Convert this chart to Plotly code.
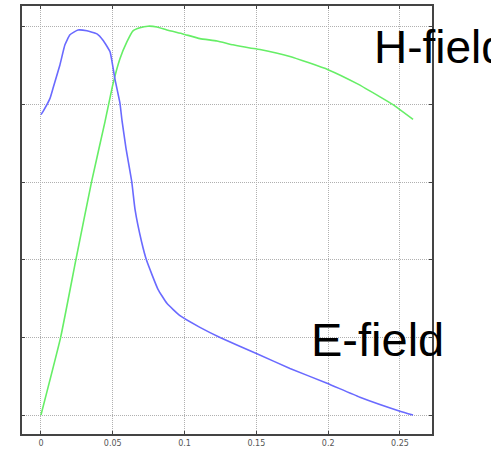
import plotly.graph_objects as go

# E-field (blue) curve
e_x = [0.0, 0.0014, 0.0063, 0.0084, 0.0132, 0.0167, 0.0202, 0.0258, 0.0320, 0.0390,
       0.0432, 0.0481, 0.0515, 0.0550, 0.0564, 0.0592, 0.0632, 0.0655, 0.0701, 0.0736,
       0.0815, 0.0877, 0.0968, 0.1107, 0.1247, 0.1504, 0.1734, 0.1992, 0.2221, 0.2500, 0.2591]
e_y = [3.87, 3.91, 4.08, 4.21, 4.51, 4.77, 4.90, 4.96, 4.95, 4.91,
       4.83, 4.68, 4.33, 4.02, 3.80, 3.44, 3.01, 2.65, 2.23, 1.99,
       1.62, 1.44, 1.28, 1.13, 1.00, 0.79, 0.60, 0.41, 0.23, 0.05, 0.00]

# H-field (green) curve
h_x = [0.0, 0.0137, 0.0242, 0.0353, 0.0446, 0.0501, 0.0550, 0.0599, 0.0641, 0.0689,
       0.0745, 0.0808, 0.0877, 0.0989, 0.1107, 0.1226, 0.1337, 0.1455, 0.1525, 0.1734,
       0.1999, 0.2201, 0.2361, 0.2451, 0.2591]
h_y = [0.0, 1.00, 1.99, 3.01, 3.78, 4.26, 4.59, 4.81, 4.95, 4.99,
       5.01, 5.00, 4.96, 4.91, 4.85, 4.82, 4.77, 4.73, 4.71, 4.62,
       4.45, 4.27, 4.10, 4.00, 3.81]

x_ticks = [0, 0.05, 0.1, 0.15, 0.2, 0.25]
x_tick_labels = ["0", "0.05", "0.1", "0.15", "0.2", "0.25"]
y_ticks = [0, 1, 2, 3, 4, 5]

fig = go.Figure()
fig.add_trace(go.Scatter(x=h_x, y=h_y, mode="lines", line=dict(color="#66ee66", width=1.6),
                         line_shape="spline", line_smoothing=0.4, showlegend=False))
fig.add_trace(go.Scatter(x=e_x, y=e_y, mode="lines", line=dict(color="#6a6aff", width=1.6),
                         line_shape="spline", line_smoothing=0.4, showlegend=False))

fig.add_annotation(text="H-field", xref="paper", yref="paper", x=0.853, y=0.905,
                   xanchor="left", yanchor="middle", showarrow=False,
                   font=dict(family="Liberation Sans, Arial", size=46, color="black"))
fig.add_annotation(text="E-field", xref="paper", yref="paper", x=0.700, y=0.221,
                   xanchor="left", yanchor="middle", showarrow=False,
                   font=dict(family="Liberation Sans, Arial", size=47, color="black"))

grid = dict(showgrid=True, gridcolor="#b0b0b0", griddash="1px,1px", gridwidth=1)

fig.update_layout(
    width=491, height=455,
    margin=dict(l=22, r=59, t=4, b=21),
    plot_bgcolor="white", paper_bgcolor="white",
    xaxis=dict(range=[-0.0132, 0.2723], tickvals=x_ticks, ticktext=x_tick_labels, **grid,
               zeroline=False, showline=True, linecolor="#444", linewidth=2, mirror="allticks",
               ticks="inside", ticklen=3, tickcolor="#444",
               tickfont=dict(family="DejaVu Sans", size=8, color="#555")),
    yaxis=dict(range=[-0.244, 5.27], tickvals=y_ticks, showticklabels=False, **grid,
               zeroline=False, showline=True, linecolor="#444", linewidth=2, mirror="allticks",
               ticks="inside", ticklen=3, tickcolor="#444"),
)

fig.write_html("out.html")
